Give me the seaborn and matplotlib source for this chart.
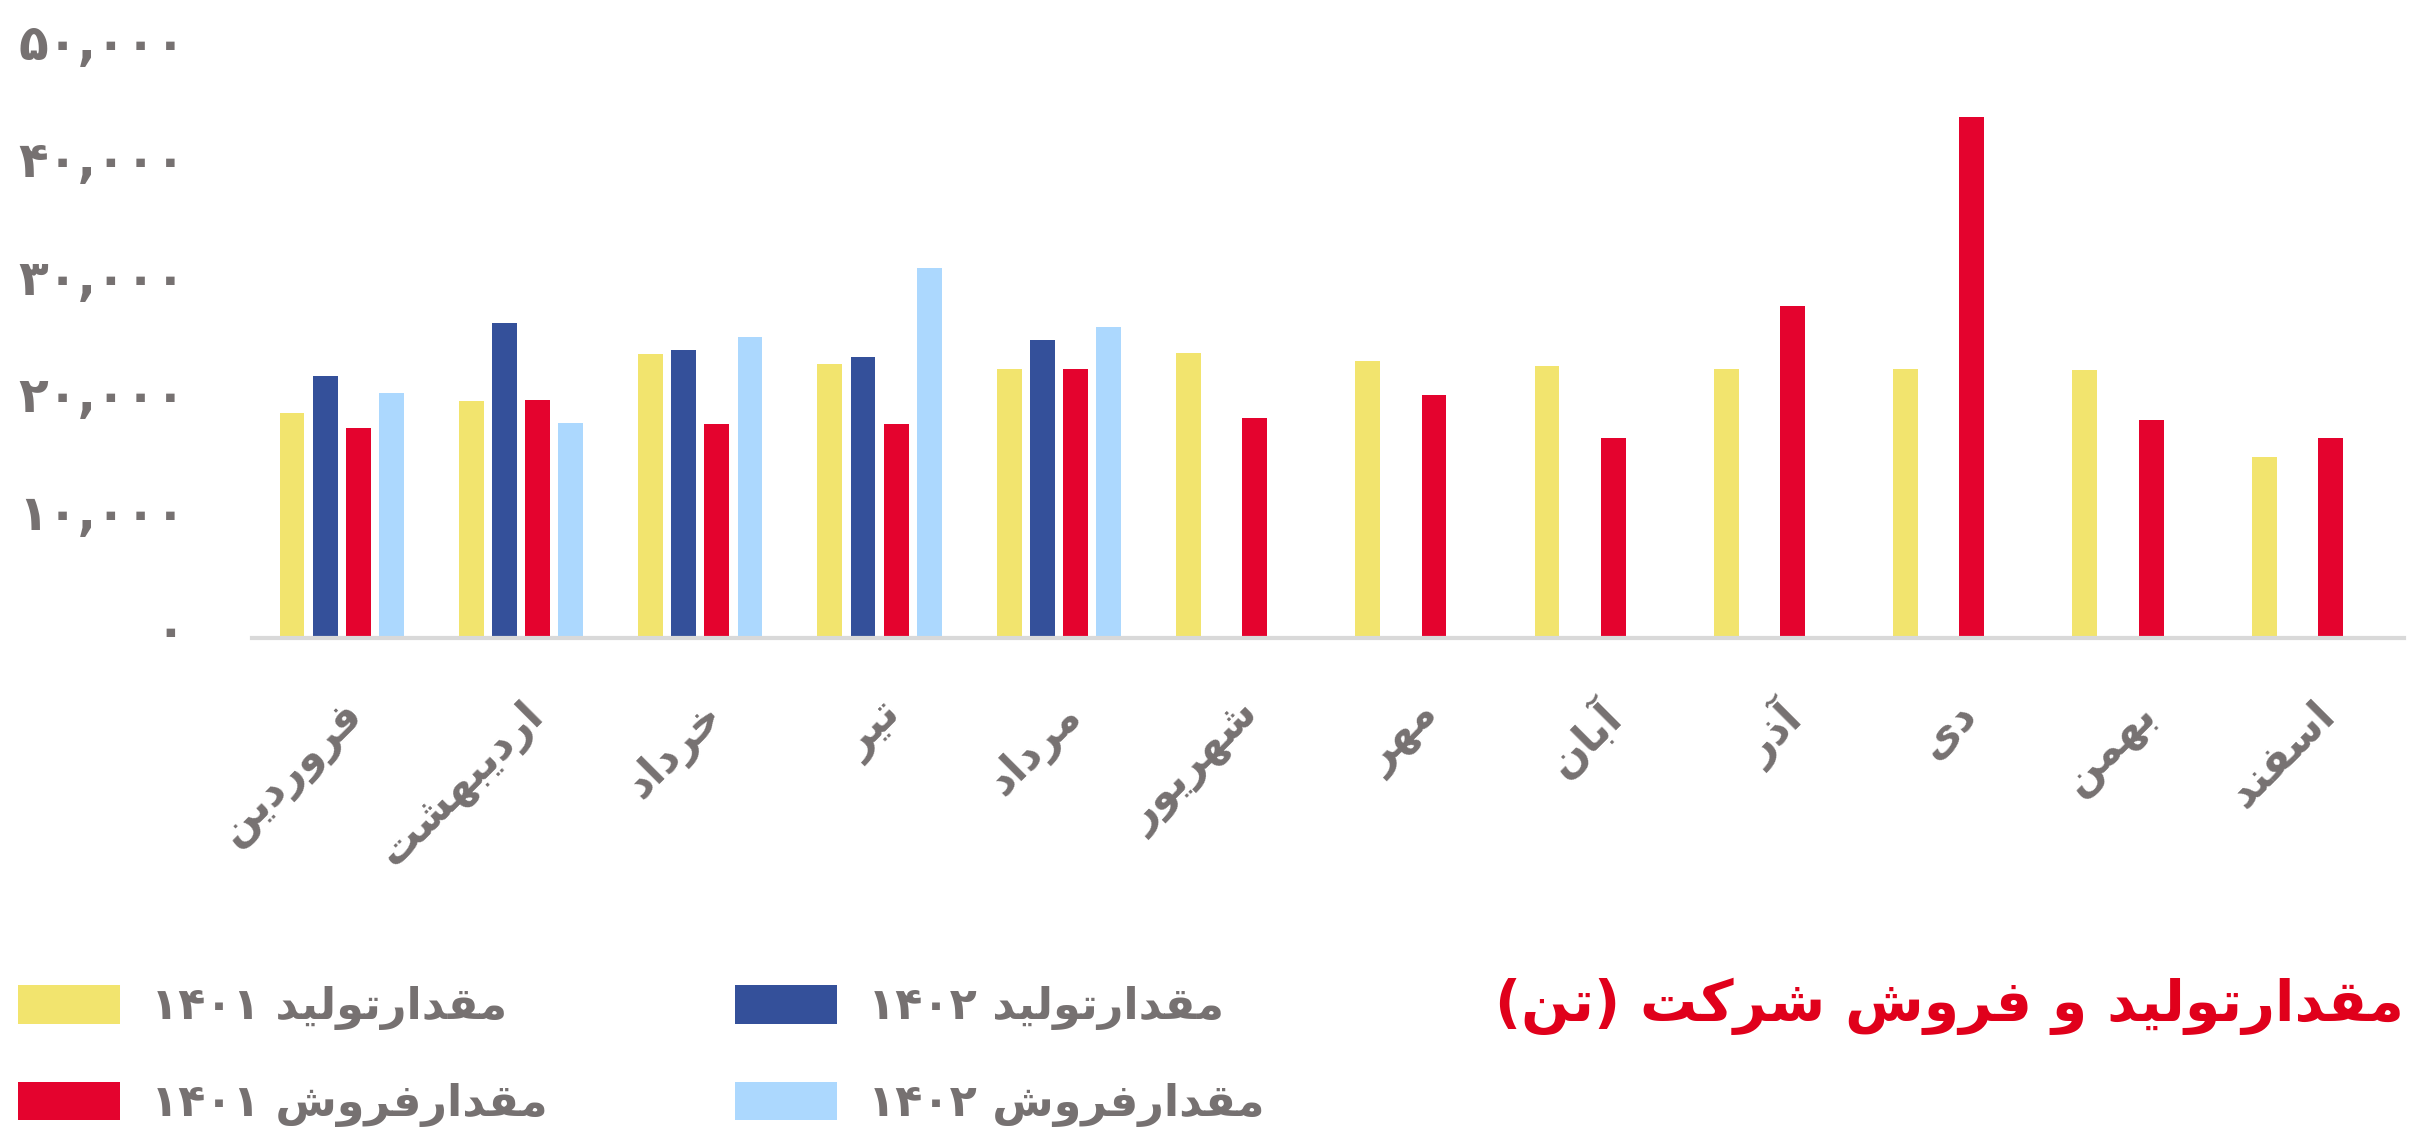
import numpy as np
import pandas as pd
import seaborn as sns
import matplotlib.pyplot as plt
import matplotlib.transforms as mtransforms
from matplotlib.patches import Patch

months = ["فروردین", "اردیبهشت", "خرداد", "تیر", "مرداد", "شهریور",
          "مهر", "آبان", "آذر", "دی", "بهمن", "اسفند"]
series = ["مقدارتولید ۱۴۰۱", "مقدارتولید ۱۴۰۲", "مقدارفروش ۱۴۰۱", "مقدارفروش ۱۴۰۲"]
prod_1401 = [19200, 20200, 24200, 23300, 22900, 24300, 23600, 23200, 22900, 22900, 22800, 15400]
prod_1402 = [22300, 26800, 24500, 23900, 25400]
sales_1401 = [17900, 20300, 18200, 18200, 22900, 18700, 20700, 17000, 28300, 44400, 18600, 17000]
sales_1402 = [20900, 18300, 25600, 31500, 26500]
yticks = [0, 10000, 20000, 30000, 40000, 50000]
title = "مقدارتولید و فروش شرکت (تن)"

colors = ["#F2E46E", "#34509A", "#E4032E", "#ACD8FE"]
gray = "#767171"

# matplotlib has no arabic shaping, so pick presentation forms by hand
# (isolated, final, initial, medial) - None means letter does not join forward
FORMS = {
    "ا": ("\uFE8D", "\uFE8E", None, None),
    "آ": ("\uFE81", "\uFE82", None, None),
    "ب": ("\uFE8F", "\uFE90", "\uFE91", "\uFE92"),
    "ت": ("\uFE95", "\uFE96", "\uFE97", "\uFE98"),
    "خ": ("\uFEA5", "\uFEA6", "\uFEA7", "\uFEA8"),
    "د": ("\uFEA9", "\uFEAA", None, None),
    "ذ": ("\uFEAB", "\uFEAC", None, None),
    "ر": ("\uFEAD", "\uFEAE", None, None),
    "س": ("\uFEB1", "\uFEB2", "\uFEB3", "\uFEB4"),
    "ش": ("\uFEB5", "\uFEB6", "\uFEB7", "\uFEB8"),
    "ف": ("\uFED1", "\uFED2", "\uFED3", "\uFED4"),
    "ق": ("\uFED5", "\uFED6", "\uFED7", "\uFED8"),
    "ل": ("\uFEDD", "\uFEDE", "\uFEDF", "\uFEE0"),
    "م": ("\uFEE1", "\uFEE2", "\uFEE3", "\uFEE4"),
    "ن": ("\uFEE5", "\uFEE6", "\uFEE7", "\uFEE8"),
    "ه": ("\uFEE9", "\uFEEA", "\uFEEB", "\uFEEC"),
    "و": ("\uFEED", "\uFEEE", None, None),
    "ی": ("\uFBFC", "\uFBFD", "\uFBFE", "\uFBFF"),
    "ک": ("\uFB8E", "\uFB8F", "\uFB90", "\uFB91"),
}


def shape(text):
    out = []
    for i, ch in enumerate(text):
        if ch not in FORMS:
            out.append(ch)
            continue
        prev = text[i - 1] if i > 0 else ""
        nxt = text[i + 1] if i + 1 < len(text) else ""
        f = FORMS[ch]
        jp = prev in FORMS and FORMS[prev][2] is not None
        jn = f[2] is not None and nxt in FORMS
        if jp and jn:
            out.append(f[3])
        elif jp:
            out.append(f[1])
        elif jn:
            out.append(f[2])
        else:
            out.append(f[0])
    return out


def fa(text):
    tokens = []
    for g in shape(text):
        if g.isdigit() and tokens and tokens[-1][-1].isdigit():
            tokens[-1] += g
        else:
            tokens.append(g)
    mirror = {"(": ")", ")": "("}
    return "".join(mirror.get(t, t) for t in reversed(tokens))


def fa_num(v):
    s = f"{v:,}"
    return s.translate(str.maketrans("0123456789", "۰۱۲۳۴۵۶۷۸۹"))


rows = []
for name, vals in zip(series, [prod_1401, prod_1402, sales_1401, sales_1402]):
    for m, v in zip(months, vals):
        rows.append({"month": m, "series": name, "value": v})
df = pd.DataFrame(rows)

sns.set_style("white")
plt.rcParams["font.family"] = ["DejaVu Sans"]
plt.rcParams["font.weight"] = "bold"

fig = plt.figure(figsize=(24.12, 11.33), dpi=100)
ax = fig.add_axes([0.1045, 0.437, 0.892, 0.518])

sns.barplot(data=df, x="month", y="value", hue="series", order=months,
            hue_order=series, palette=colors, width=0.74, gap=0.25,
            errorbar=None, linewidth=0, saturation=1, ax=ax, legend=False)

ax.set_ylim(0, 50000)
ax.set_xlim(-0.5, 11.5)
ax.set_yticks(yticks)
ax.set_yticklabels([fa_num(v) for v in yticks], fontsize=35, color=gray,
                   fontweight="bold")
ax.set_xticks(range(len(months)))
ax.set_xticklabels([fa(m) for m in months], rotation=45, ha="right",
                   rotation_mode="anchor", fontsize=31, color=gray,
                   fontweight="bold")
ax.tick_params(axis="y", length=0, pad=48)
ax.tick_params(axis="x", length=0, pad=40)
# reference labels sit a little above their tick
shift = mtransforms.ScaledTranslation(0, 10 / 100, fig.dpi_scale_trans)
for lab in ax.get_yticklabels():
    lab.set_transform(lab.get_transform() + shift)
ax.set_xlabel("")
ax.set_ylabel("")
sns.despine(ax=ax, left=True)
ax.spines["bottom"].set_color("#D9D9D9")
ax.spines["bottom"].set_linewidth(3)

handles = [Patch(facecolor=c, edgecolor="none") for c in colors]
# column-wise fill: yellow/red on the left, dark/light blue on the right
order = [0, 2, 1, 3]
fig.legend([handles[i] for i in order], [fa(series[i]) for i in order],
           ncol=2, loc="center left", bbox_to_anchor=(0.0075, 0.068),
           frameon=False, borderpad=0, borderaxespad=0,
           handlelength=2.3, handleheight=0.97, handletextpad=0.7,
           columnspacing=4.2, labelspacing=1.15, labelcolor=gray,
           prop={"weight": "bold", "size": 32})

fig.text(0.9967, 0.112, fa(title), ha="right", va="center", fontsize=41,
         color="#E0001B", fontweight="bold")

fig.savefig("out.png", dpi=100)
